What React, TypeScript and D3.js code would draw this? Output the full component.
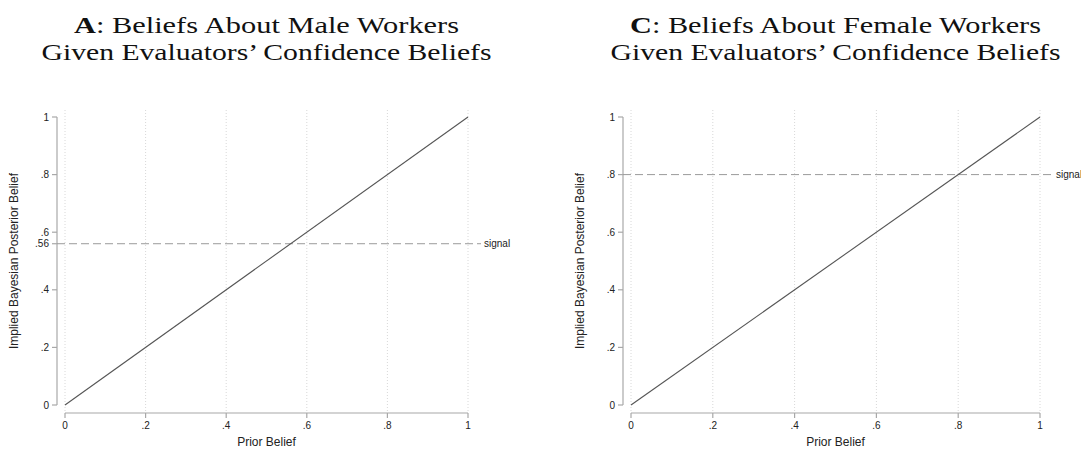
import React from "react";
import * as d3 from "d3";

// data
const priorBelief = [0, 1];
const posteriorBelief = [0, 1];
const xTicks = [0, 0.2, 0.4, 0.6, 0.8, 1];
const yTicksMale = [0, 0.2, 0.4, 0.56, 0.6, 0.8, 1];
const yTicksFemale = [0, 0.2, 0.4, 0.6, 0.8, 1];
const signalMale = 0.56;
const signalFemale = 0.8;

const W = 1081, H = 450;
const sans = "'Liberation Sans', Arial, sans-serif";
const serif = "'Liberation Serif', 'Times New Roman', serif";

const fmt = (v: number) => {
  if (v === 0) return "0";
  if (v === 1) return "1";
  return String(+v.toFixed(2)).replace(/^0/, "");
};

type PanelProps = {
  letter: string;
  line1: string;
  line1Width: number;
  x0: number; // pixel of prior = 0
  x1: number; // pixel of prior = 1
  axisX: number;
  yTicks: number[];
  signal: number;
};

function Panel({ letter, line1, line1Width, x0, x1, axisX, yTicks, signal }: PanelProps) {
  const x = d3.scaleLinear().domain([0, 1]).range([x0, x1]);
  const y = d3.scaleLinear().domain([0, 1]).range([405, 117]);
  const axisY = 413;
  const gridTop = 110;
  const line = d3.line<number>()
    .x((d) => x(d))
    .y((d, i) => y(posteriorBelief[i]));
  const cx = (x0 + x1) / 2;
  const ys = y(signal);

  return (
    <g>
      <text x={cx} y={33} textAnchor="middle" fontFamily={serif} fontSize={24} fill="#111"
        textLength={line1Width} lengthAdjust="spacingAndGlyphs">
        <tspan fontWeight="bold">{letter}</tspan>{": " + line1}
      </text>
      <text x={cx} y={60} textAnchor="middle" fontFamily={serif} fontSize={24} fill="#111"
        textLength={450} lengthAdjust="spacingAndGlyphs">
        Given Evaluators’ Confidence Beliefs
      </text>

      {/* vertical grid */}
      {xTicks.map((t) => (
        <line key={"g" + t} x1={x(t)} x2={x(t)} y1={gridTop} y2={axisY}
          stroke="#d8d8d8" strokeWidth={1} strokeDasharray="1,2" />
      ))}

      {/* y axis */}
      <line x1={axisX} x2={axisX} y1={y(1)} y2={y(0)} stroke="#a8a8a8" strokeWidth={1.2} />
      {yTicks.map((t) => (
        <g key={"y" + t}>
          <line x1={axisX - 5} x2={axisX} y1={y(t)} y2={y(t)} stroke="#a8a8a8" strokeWidth={1.2} />
          <text x={axisX - 8} y={y(t) + 3.5} textAnchor="end" fontFamily={sans} fontSize={10} fill="#222">
            {fmt(t)}
          </text>
        </g>
      ))}
      <text transform={`translate(${axisX - 39},${(y(0) + y(1)) / 2}) rotate(-90)`}
        textAnchor="middle" fontFamily={sans} fontSize={12} fill="#222">
        Implied Bayesian Posterior Belief
      </text>

      {/* x axis */}
      <line x1={x(0)} x2={x(1)} y1={axisY} y2={axisY} stroke="#a8a8a8" strokeWidth={1.2} />
      {xTicks.map((t) => (
        <g key={"x" + t}>
          <line x1={x(t)} x2={x(t)} y1={axisY} y2={axisY + 5} stroke="#a8a8a8" strokeWidth={1.2} />
          <text x={x(t)} y={axisY + 16} textAnchor="middle" fontFamily={sans} fontSize={10} fill="#222">
            {fmt(t)}
          </text>
        </g>
      ))}
      <text x={cx} y={446} textAnchor="middle" fontFamily={sans} fontSize={12} fill="#222">
        Prior Belief
      </text>

      {/* signal line */}
      <line x1={axisX} x2={x(1) + 13} y1={ys} y2={ys} stroke="#9a9a9a" strokeWidth={1}
        strokeDasharray="8,4" />
      <text x={x(1) + 16} y={ys + 3.5} fontFamily={sans} fontSize={10} fill="#222">signal</text>

      {/* posterior = prior */}
      <path d={line(priorBelief) || ""} fill="none" stroke="#555" strokeWidth={1.1} />
    </g>
  );
}

export default function App() {
  return (
    <svg width={W} height={H} style={{ position: "absolute", left: 0, top: 0, background: "#fff" }}>
      <rect width={W} height={H} fill="#fff" />
      <Panel letter="A" line1="Beliefs About Male Workers" line1Width={385} x0={65} x1={468} axisX={57}
        yTicks={yTicksMale} signal={signalMale} />
      <Panel letter="C" line1="Beliefs About Female Workers" line1Width={411} x0={631} x1={1040} axisX={623}
        yTicks={yTicksFemale} signal={signalFemale} />
    </svg>
  );
}
